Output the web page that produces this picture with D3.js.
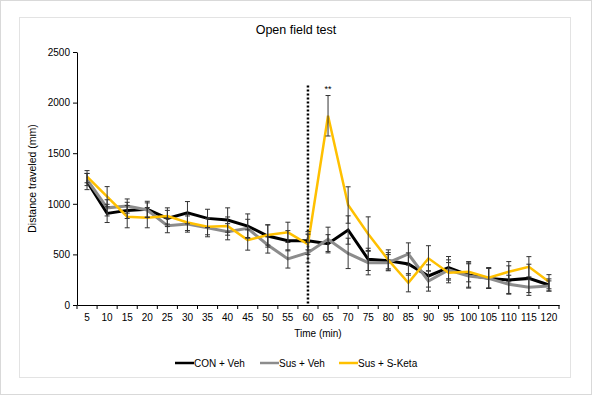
<!DOCTYPE html>
<html>
<head>
<meta charset="utf-8">
<script src="https://cdn.jsdelivr.net/npm/d3@7"></script>
<style>
  body { margin: 0; background: #fff; }
  svg { display: block; font-family: "Liberation Sans", Arial, sans-serif; }
</style>
</head>
<body>
<script>
// time points (min)
let times = [5, 10, 15, 20, 25, 30, 35, 40, 45, 50, 55, 60, 65, 70, 75, 80, 85, 90, 95, 100, 105, 110, 115, 120];

// group means (mm)
let conVeh   = [1220, 905, 935, 945, 855, 912, 856, 840, 780, 682, 635, 635, 605, 741, 451, 438, 405, 287, 369, 296, 263, 247, 263, 198];
let susVeh   = [1240, 960, 978, 939, 784, 800, 764, 724, 757, 593, 455, 517, 649, 510, 418, 418, 504, 237, 346, 287, 263, 204, 175, 188];
let susKeta  = [1268, 1070, 873, 863, 880, 816, 774, 780, 642, 692, 718, 600, 1870, 988, 701, 445, 220, 461, 319, 329, 270, 329, 378, 230];

// SEM
let conErr  = [80, 90, 80, 80, 80, 110, 90, 120, 120, 110, 100, 90, 90, 140, 110, 80, 110, 110, 110, 120, 100, 140, 140, 60];
let susErr  = [60, 80, 70, 70, 70, 80, 90, 80, 90, 80, 90, 100, 120, 150, 120, 80, 110, 100, 100, 120, 100, 90, 80, 50];
let ketaErr = [60, 100, 110, 100, 80, 80, 80, 90, 100, 100, 100, 100, 200, 180, 170, 100, 90, 125, 100, 100, 100, 100, 100, 70];

let yTicks = [0, 500, 1000, 1500, 2000, 2500];

let series = [
  { name: "CON + Veh", values: conVeh, err: conErr, color: "#000000", width: 3 },
  { name: "Sus + Veh", values: susVeh, err: susErr, color: "#8c8c8c", width: 3 },
  { name: "Sus + S-Keta", values: susKeta, err: ketaErr, color: "#ffc000", width: 2.5 }
];

let canvasW = 592;
let canvasH = 395;

let svg = d3.select("body").append("svg")
  .attr("width", canvasW)
  .attr("height", canvasH);

// frames
svg.append("rect")
  .attr("x", 0.5).attr("y", 0.5)
  .attr("width", canvasW - 1).attr("height", canvasH - 1)
  .attr("fill", "#fff").attr("stroke", "#d9d9d9");
svg.append("rect")
  .attr("x", 19.5).attr("y", 17.5)
  .attr("width", 551).attr("height", 360)
  .attr("fill", "#fff").attr("stroke", "#e3e3e3");

let plotL = 77, plotR = 559, plotT = 52, plotB = 305;

let x = d3.scaleBand().domain(times).range([plotL, plotR]).padding(0);
let cx = t => x(t) + x.bandwidth() / 2;
let y = d3.scaleLinear().domain([0, 2500]).range([plotB, plotT]);

// title
svg.append("text")
  .attr("x", 296).attr("y", 34)
  .attr("text-anchor", "middle")
  .attr("font-size", 12.5)
  .text("Open field test");

// y axis
let yAxis = svg.append("g")
  .attr("transform", `translate(${plotL},0)`)
  .call(d3.axisLeft(y).tickValues(yTicks).tickFormat(d3.format("d")).tickSize(4).tickSizeOuter(0));
yAxis.select(".domain").attr("stroke", "#000");
yAxis.selectAll("text").attr("font-size", 10).attr("fill", "#000")
  .attr("font-family", "Liberation Sans, Arial, sans-serif");

svg.append("text")
  .attr("transform", `translate(36,${(plotT + plotB) / 2}) rotate(-90)`)
  .attr("text-anchor", "middle")
  .attr("font-size", 10.5)
  .text("Distance traveled (mm)");

// x axis (labels centred, ticks between categories)
let xAxis = svg.append("g")
  .attr("transform", `translate(0,${plotB})`)
  .call(d3.axisBottom(x).tickSize(0).tickPadding(9).tickSizeOuter(0));
xAxis.select(".domain").attr("stroke", "#000");
xAxis.selectAll("text").attr("font-size", 10).attr("fill", "#000")
  .attr("font-family", "Liberation Sans, Arial, sans-serif");
xAxis.selectAll(".sep")
  .data(times.concat(["end"]))
  .join("line")
  .attr("class", "sep")
  .attr("x1", d => d == "end" ? plotR : x(d))
  .attr("x2", d => d == "end" ? plotR : x(d))
  .attr("y1", 0).attr("y2", 4)
  .attr("stroke", "#000");

svg.append("text")
  .attr("x", (plotL + plotR) / 2).attr("y", 337)
  .attr("text-anchor", "middle")
  .attr("font-size", 10)
  .text("Time (min)");

// dotted injection line at 60 min
svg.append("line")
  .attr("x1", cx(60)).attr("x2", cx(60))
  .attr("y1", y(2170)).attr("y2", plotB)
  .attr("stroke", "#000")
  .attr("stroke-width", 2.5)
  .attr("stroke-dasharray", "2,2");

// lines
let line = d3.line()
  .x((d, i) => cx(times[i]))
  .y(d => y(d));

series.forEach(s => {
  svg.append("path")
    .datum(s.values)
    .attr("fill", "none")
    .attr("stroke", s.color)
    .attr("stroke-width", s.width)
    .attr("stroke-linejoin", "miter")
    .attr("d", line);
});

// error bars
series.forEach(s => {
  let g = svg.append("g").attr("stroke", "#333").attr("stroke-width", 1);
  s.values.forEach((v, i) => {
    let px = cx(times[i]);
    let y1 = y(v + s.err[i]), y2 = y(v - s.err[i]);
    g.append("line").attr("x1", px).attr("x2", px).attr("y1", y1).attr("y2", y2);
    g.append("line").attr("x1", px - 2.5).attr("x2", px + 2.5).attr("y1", y1).attr("y2", y1);
    g.append("line").attr("x1", px - 2.5).attr("x2", px + 2.5).attr("y1", y2).attr("y2", y2);
  });
});

// significance
svg.append("text")
  .attr("x", cx(65)).attr("y", y(susKeta[12] + ketaErr[12]) - 4)
  .attr("text-anchor", "middle")
  .attr("font-size", 9)
  .text("**");

// legend
let legend = svg.append("g").attr("transform", "translate(175,363)");
let legX = [0, 85, 164];
series.forEach((s, i) => {
  let g = legend.append("g").attr("transform", `translate(${legX[i]},0)`);
  g.append("line").attr("x1", 0).attr("x2", 19).attr("y1", 0).attr("y2", 0)
    .attr("stroke", s.color).attr("stroke-width", 2.5);
  g.append("text").attr("x", 19).attr("y", 3.5)
    .attr("font-size", 10).text(s.name);
});
</script>
</body>
</html>
